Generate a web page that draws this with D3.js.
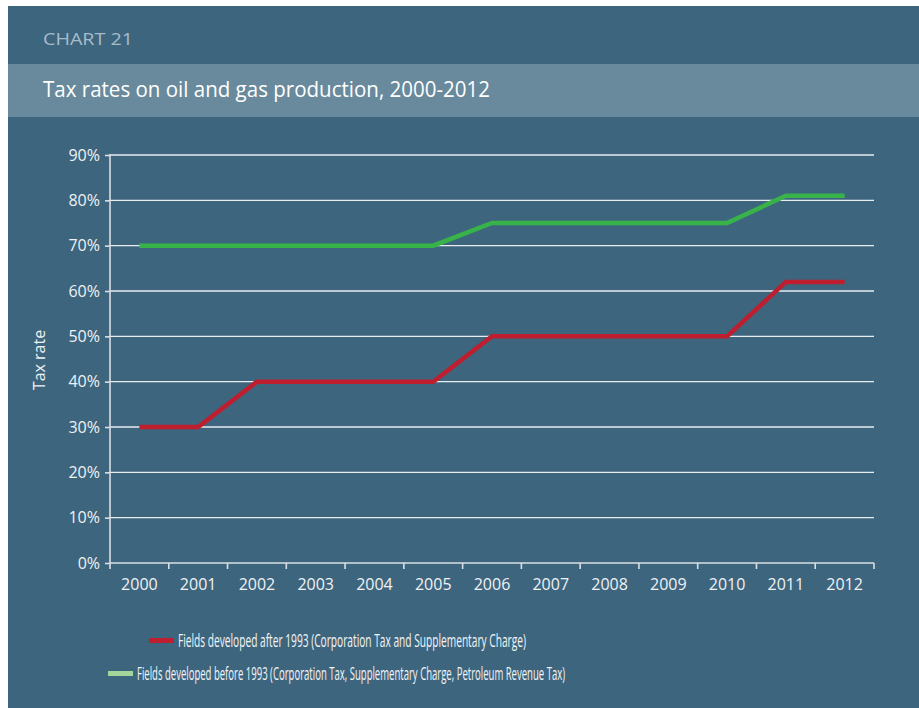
<!DOCTYPE html>
<html lang="en">
<head>
<meta charset="utf-8">
<title>Chart 21 - Tax rates on oil and gas production</title>
<script src="https://cdn.jsdelivr.net/npm/d3@7"></script>
<style>
  html, body { margin: 0; padding: 0; background: #fff; }
  svg { display: block; }
  text { font-family: "Open Sans", "Noto Sans", sans-serif; }
  .grid line { stroke: #e8edf0; stroke-width: 1.4; }
  .axis path, .axis line { stroke: #d9dfe3; stroke-width: 1.6; }
  .axis text { fill: #eef2f4; font-size: 15px; }
</style>
</head>
<body>
<script>
// data
var years = ["2000","2001","2002","2003","2004","2005","2006","2007","2008","2009","2010","2011","2012"];
var after1993 = [30, 30, 40, 40, 40, 40, 50, 50, 50, 50, 50, 62, 62];
var before1993 = [70, 70, 70, 70, 70, 70, 75, 75, 75, 75, 75, 81, 81];
var yTicks = [0, 10, 20, 30, 40, 50, 60, 70, 80, 90];
var legendLabels = [
  "Fields developed after 1993 (Corporation Tax and Supplementary Charge)",
  "Fields developed before 1993 (Corporation Tax, Supplementary Charge, Petroleum Revenue Tax)"
];

var W = 919, H = 708;
var svg = d3.select("body").append("svg").attr("width", W).attr("height", H);

// background panels
svg.append("rect").attr("x", 8).attr("y", 6).attr("width", W - 8).attr("height", H - 6).attr("fill", "#3e657e");
svg.append("rect").attr("x", 8).attr("y", 64).attr("width", W - 8).attr("height", 53).attr("fill", "#698a9d");

svg.append("text").attr("x", 43).attr("y", 45)
  .attr("fill", "#a7bccb").attr("font-size", 17)
  .attr("textLength", 90).attr("lengthAdjust", "spacingAndGlyphs")
  .text("CHART 21");
svg.append("text").attr("x", 43).attr("y", 97)
  .attr("fill", "#ffffff").attr("font-size", 21)
  .attr("textLength", 447).attr("lengthAdjust", "spacingAndGlyphs")
  .text("Tax rates on oil and gas production, 2000-2012");

// plot area
var pLeft = 110, pRight = 874, pTop = 155, pBottom = 563;
var x = d3.scaleBand().domain(years).range([pLeft, pRight]);
var y = d3.scaleLinear().domain([0, 90]).range([pBottom, pTop]);

// gridlines
svg.append("g").attr("class", "grid")
  .selectAll("line").data(yTicks.filter(function(d){ return d > 0; })).enter()
  .append("line")
  .attr("x1", pLeft).attr("x2", pRight)
  .attr("y1", function(d){ return y(d); }).attr("y2", function(d){ return y(d); });

// y axis
var yAxis = svg.append("g").attr("class", "axis")
  .attr("transform", "translate(" + pLeft + ",0)")
  .call(d3.axisLeft(y).tickValues(yTicks).tickSize(5).tickPadding(5)
    .tickFormat(function(d){ return d + "%"; }));
yAxis.select(".domain").attr("d", "M0," + pBottom + "V" + (pTop - 1));
yAxis.selectAll(".tick text").style("font-size", "16px");

// x axis, ticks at band boundaries
var xAxis = svg.append("g").attr("class", "axis")
  .attr("transform", "translate(0," + pBottom + ")")
  .call(d3.axisBottom(x).tickSize(0).tickPadding(17));
xAxis.select(".domain").attr("d", "M" + pLeft + ",0H" + pRight);
xAxis.selectAll(".tick text").attr("dy", "0.6em").style("font-size", "16px");
xAxis.selectAll(".bnd").data(years.concat(["end"])).enter()
  .append("line").attr("class", "bnd")
  .attr("x1", function(d, i){ return pLeft + i * x.bandwidth(); })
  .attr("x2", function(d, i){ return pLeft + i * x.bandwidth(); })
  .attr("y1", 0).attr("y2", 6);

// y label
svg.append("text")
  .attr("transform", "translate(45,360) rotate(-90)")
  .attr("text-anchor", "middle")
  .attr("fill", "#eef2f4").attr("font-size", 16)
  .text("Tax rate");

// lines
var line = d3.line()
  .x(function(d, i){ return x(years[i]) + x.bandwidth() / 2; })
  .y(function(d){ return y(d); });

svg.append("path").datum(before1993)
  .attr("d", line).attr("fill", "none")
  .attr("stroke", "#37b34a").attr("stroke-width", 4.5);
svg.append("path").datum(after1993)
  .attr("d", line).attr("fill", "none")
  .attr("stroke", "#be1e2d").attr("stroke-width", 4.5);

// legend
var legend = [
  {label: legendLabels[0], color: "#be1e2d", sx: 149, tx: 178, y: 641, len: 348},
  {label: legendLabels[1], color: "#a4d59a", sx: 108, tx: 137, y: 674, len: 428}
];
var lg = svg.selectAll(".legend").data(legend).enter().append("g").attr("class", "legend");
lg.append("rect")
  .attr("x", function(d){ return d.sx; }).attr("y", function(d){ return d.y - 3; })
  .attr("width", 25).attr("height", 5)
  .attr("fill", function(d){ return d.color; });
lg.append("text")
  .attr("x", function(d){ return d.tx; }).attr("y", function(d){ return d.y + 6; })
  .attr("fill", "#f2f5f7").attr("font-size", 18.5)
  .attr("textLength", function(d){ return d.len; }).attr("lengthAdjust", "spacingAndGlyphs")
  .text(function(d){ return d.label; });
</script>
</body>
</html>
